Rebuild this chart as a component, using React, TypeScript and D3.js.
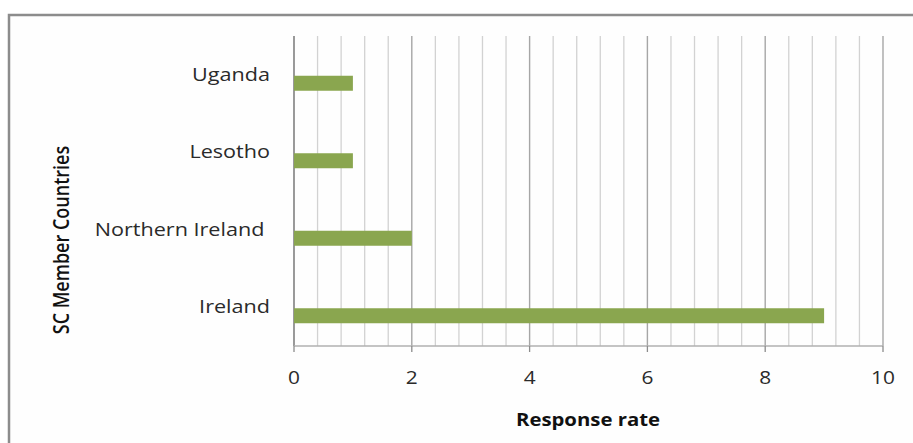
import React from "react";
import * as d3 from "d3";

const categories = ["Uganda", "Lesotho", "Northern Ireland ", "Ireland"];
const values = [1, 1, 2, 9];
const xTicks = [0, 2, 4, 6, 8, 10];
const xTitle = "Response rate";
const yTitle = "SC Member Countries";

const W = 913;
const H = 443;
const SX = 1.16;
const LX = 1.2;
const FONT = "'Open Sans', sans-serif";

export default function App() {
  const x = d3.scaleLinear().domain([0, 10]).range([294, 883]);
  const y = d3.scaleBand<string>().domain(categories).range([36, 346]).padding(0);
  const bw = y.bandwidth();
  const barH = 15;
  const minor = d3.range(0, 10.0001, 0.4).map((v) => +v.toFixed(2));
  const isMajor = (v: number) => Math.abs(v / 2 - Math.round(v / 2)) < 1e-6;

  return (
    <svg
      width={W}
      height={H}
      style={{ position: "absolute", left: 0, top: 0, background: "#fff" }}
    >
      <rect x={0} y={0} width={W} height={H} fill="#fff" />
      <rect x={9} y={15} width={W + 20} height={H + 20} fill="#fefefe" stroke="#8c8c8c" strokeWidth={2.5} />
      {minor.map((v) => (
        <line
          key={"g" + v}
          x1={x(v)}
          x2={x(v)}
          y1={36}
          y2={346}
          stroke={isMajor(v) ? "#a6a6a6" : "#d2d2d2"}
          strokeWidth={isMajor(v) ? 1.4 : 1.3}
        />
      ))}
      <line x1={x(0)} x2={x(0)} y1={36} y2={346} stroke="#8c8c8c" strokeWidth={1.5} />
      <line x1={x(0)} x2={x(10)} y1={346} y2={346} stroke="#b0b0b0" strokeWidth={1.3} />
      {xTicks.map((t) => (
        <line key={"t" + t} x1={x(t)} x2={x(t)} y1={346} y2={352} stroke="#8c8c8c" strokeWidth={1.3} />
      ))}
      {categories.map((c, i) => (
        <rect
          key={c}
          x={x(0)}
          y={(y(c) as number) + bw / 2 + 1}
          width={x(values[i]) - x(0)}
          height={barH}
          fill="#8aa64f"
        />
      ))}
      {categories.map((c) => (
        <text
          key={"l" + c}
          transform={`translate(270,${(y(c) as number) + bw / 2 + 6}) scale(${LX},1)`}
          textAnchor="end"
          fontFamily={FONT}
          fontSize={18}
          fill="#2a2a2a"
          style={{ whiteSpace: "pre" }}
        >
          {c}
        </text>
      ))}
      {xTicks.map((t) => (
        <text
          key={"x" + t}
          transform={`translate(${x(t)},384) scale(${SX},1)`}
          textAnchor="middle"
          fontFamily={FONT}
          fontSize={18}
          fill="#2a2a2a"
        >
          {t}
        </text>
      ))}
      <text
        transform={`translate(588,426) scale(1.13,1)`}
        textAnchor="middle"
        fontFamily={FONT}
        fontSize={18}
        fontWeight={700}
        fill="#111"
      >
        {xTitle}
      </text>
      <text
        transform={`translate(69,240) rotate(-90) scale(1,${SX})`}
        textAnchor="middle"
        fontFamily={FONT}
        fontSize={18}
        fontWeight={600}
        fill="#111"
      >
        {yTitle}
      </text>
    </svg>
  );
}
